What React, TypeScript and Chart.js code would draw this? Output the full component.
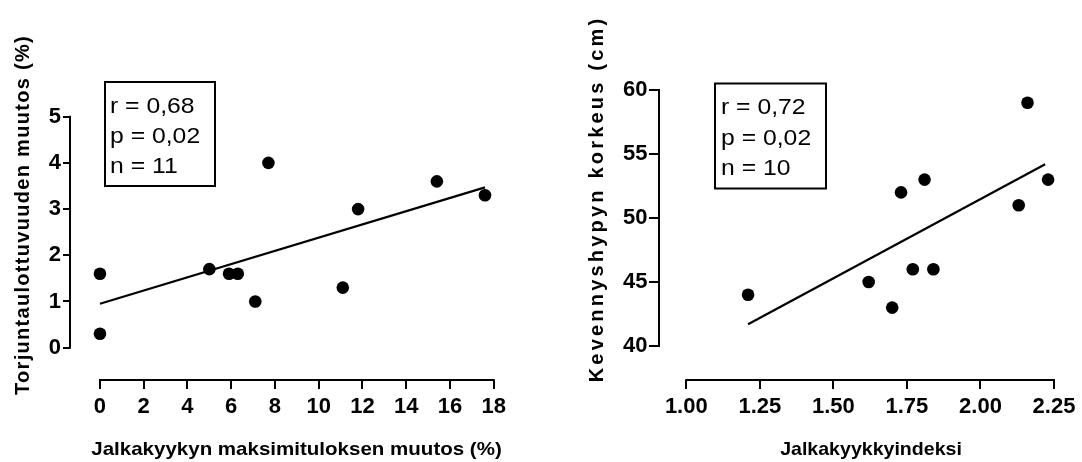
import React, { useEffect, useRef } from 'react';
import { Chart, registerables } from 'chart.js';
Chart.register(...registerables);

// ---------- DATA ----------
const leftX = [0, 0, 5.0, 5.9, 6.3, 7.1, 7.7, 11.1, 11.8, 15.4, 17.6];
const leftY = [1.6, 0.3, 1.7, 1.6, 1.6, 1.0, 4.0, 1.3, 3.0, 3.6, 3.3];
const leftFitX = [0, 17.6];
const leftFitY = [0.95, 3.47];
const leftXTicks = [0, 2, 4, 6, 8, 10, 12, 14, 16, 18];
const leftYTicks = [0, 1, 2, 3, 4, 5];
const leftStats = ['r = 0,68', 'p = 0,02', 'n = 11'];
const leftXTitle = 'Jalkakyykyn maksimituloksen muutos (%)';
const leftYTitle = 'Torjuntaulottuvuuden muutos (%)';

const rightX = [1.21, 1.62, 1.70, 1.73, 1.77, 1.81, 1.84, 2.13, 2.16, 2.23];
const rightY = [44, 45, 43, 52, 46, 53, 46, 51, 59, 53];
const rightFitX = [1.21, 2.22];
const rightFitY = [41.7, 54.2];
const rightXTicks = [1.0, 1.25, 1.5, 1.75, 2.0, 2.25];
const rightYTicks = [40, 45, 50, 55, 60];
const rightStats = ['r = 0,72', 'p = 0,02', 'n = 10'];
const rightXTitle = 'Jalkakyykkyindeksi';
const rightYTitle = 'Kevennyshypyn korkeus (cm)';

const FONT = "'Liberation Sans', Arial, Helvetica, sans-serif";

type PanelCfg = {
  xs: number[]; ys: number[]; fitX: number[]; fitY: number[];
  xTicks: number[]; yTicks: number[]; stats: string[];
  xTitle: string; yTitle: string; xFmt: (v: number) => string;
  area: { left: number; top: number; right: number; bottom: number };
  xRange: [number, number]; yRange: [number, number];
  yTickLen: number; yTickPad: number; xTickLen: number; xTickPad: number;
  box: { x: number; y: number; w: number; h: number };
  statX: number; statBase: number[];
  yTitleFont: number; yTitleSpacing: number; yTitlePos: { x: number; y: number };
  xTitleFont: number; xTitleScale: number; xTitlePos: { x: number; y: number };
};

const leftPanel: PanelCfg = {
  xs: leftX, ys: leftY, fitX: leftFitX, fitY: leftFitY,
  xTicks: leftXTicks, yTicks: leftYTicks, stats: leftStats,
  xTitle: leftXTitle, yTitle: leftYTitle, xFmt: (v) => String(v),
  area: { left: 70, top: 93.6, right: 520, bottom: 380 },
  xRange: [-1.37, 19.2], yRange: [-0.7, 5.5],
  yTickLen: 7, yTickPad: 2, xTickLen: 9, xTickPad: 5,
  box: { x: 105, y: 82, w: 110, h: 104 },
  statX: 110, statBase: [113, 143, 173],
  yTitleFont: 20, yTitleSpacing: 1.3, yTitlePos: { x: 29, y: 215 },
  xTitleFont: 19, xTitleScale: 1.08, xTitlePos: { x: 296.5, y: 455 },
};

const rightPanel: PanelCfg = {
  xs: rightX, ys: rightY, fitX: rightFitX, fitY: rightFitY,
  xTicks: rightXTicks, yTicks: rightYTicks, stats: rightStats,
  xTitle: rightXTitle, yTitle: rightYTitle, xFmt: (v) => v.toFixed(2),
  area: { left: 118, top: 64.4, right: 541, bottom: 380 },
  xRange: [0.9072, 2.3238], yRange: [37.344, 62],
  yTickLen: 10, yTickPad: 1.5, xTickLen: 9, xTickPad: 5,
  box: { x: 174, y: 83.5, w: 111, h: 105 },
  statX: 180, statBase: [114, 144.5, 175],
  yTitleFont: 20, yTitleSpacing: 3.2, yTitlePos: { x: 61.5, y: 199 },
  xTitleFont: 19, xTitleScale: 1.03, xTitlePos: { x: 330, y: 455 },
};

function Panel({ cfg, left }: { cfg: PanelCfg; left: number }) {
  const ref = useRef<HTMLCanvasElement | null>(null);
  useEffect(() => {
    const canvas = ref.current;
    if (!canvas) return;
    const W = 541, H = 462;
    const decor = {
      id: 'prismDecor',
      afterDraw(chart: any) {
        const ctx = chart.ctx as CanvasRenderingContext2D;
        const xs = chart.scales.x, ys = chart.scales.y;
        const a = chart.chartArea;
        ctx.save();
        ctx.strokeStyle = '#000';
        ctx.lineWidth = 2;
        ctx.lineCap = 'butt';
        // y axis line
        const yTop = ys.getPixelForValue(cfg.yTicks[cfg.yTicks.length - 1]);
        const yBot = ys.getPixelForValue(cfg.yTicks[0]);
        ctx.beginPath();
        ctx.moveTo(a.left, yTop - 1);
        ctx.lineTo(a.left, yBot + 1);
        ctx.stroke();
        // x axis line
        const xL = xs.getPixelForValue(cfg.xTicks[0]);
        const xR = xs.getPixelForValue(cfg.xTicks[cfg.xTicks.length - 1]);
        ctx.beginPath();
        ctx.moveTo(xL - 1, a.bottom);
        ctx.lineTo(xR + 1, a.bottom);
        ctx.stroke();
        // stats box
        ctx.lineWidth = 2;
        ctx.strokeRect(cfg.box.x, cfg.box.y, cfg.box.w, cfg.box.h);
        ctx.fillStyle = '#000';
        ctx.font = `22.5px ${FONT}`;
        ctx.textAlign = 'left';
        ctx.textBaseline = 'alphabetic';
        cfg.stats.forEach((s, i) => {
          ctx.save();
          ctx.translate(cfg.statX, cfg.statBase[i]);
          ctx.scale(1.1, 1);
          ctx.fillText(s, 0, 0);
          ctx.restore();
        });
        // x title
        ctx.save();
        ctx.font = `bold ${cfg.xTitleFont}px ${FONT}`;
        ctx.textAlign = 'center';
        ctx.translate(cfg.xTitlePos.x, cfg.xTitlePos.y);
        ctx.scale(cfg.xTitleScale, 1);
        ctx.fillText(cfg.xTitle, 0, 0);
        ctx.restore();
        // y title
        ctx.save();
        ctx.font = `bold ${cfg.yTitleFont}px ${FONT}`;
        (ctx as any).letterSpacing = `${cfg.yTitleSpacing}px`;
        ctx.textAlign = 'center';
        ctx.translate(cfg.yTitlePos.x, cfg.yTitlePos.y);
        ctx.rotate(-Math.PI / 2);
        ctx.fillText(cfg.yTitle, 0, 0);
        ctx.restore();
        ctx.restore();
      },
    };
    const tickFont = { family: FONT, size: 22, weight: 'bold' as const };
    const chart = new Chart(canvas, {
      type: 'scatter',
      data: {
        datasets: [
          {
            data: cfg.xs.map((x, i) => ({ x, y: cfg.ys[i] })),
            pointRadius: 6.3,
            pointHoverRadius: 6.3,
            backgroundColor: '#000',
            borderColor: '#000',
            borderWidth: 0,
          },
          {
            data: cfg.fitX.map((x, i) => ({ x, y: cfg.fitY[i] })),
            showLine: true,
            pointRadius: 0,
            borderColor: '#000',
            borderWidth: 2.2,
            backgroundColor: '#000',
          },
        ],
      },
      options: {
        animation: false,
        responsive: false,
        devicePixelRatio: 1,
        layout: {
          padding: { left: 0, top: cfg.area.top, right: W - cfg.area.right, bottom: 0 },
        },
        plugins: { legend: { display: false }, tooltip: { enabled: false } },
        events: [],
        scales: {
          x: {
            type: 'linear',
            position: 'bottom',
            min: cfg.xRange[0],
            max: cfg.xRange[1],
            afterBuildTicks: (s: any) => { s.ticks = cfg.xTicks.map((v) => ({ value: v })); },
            afterFit: (s: any) => { s.height = H - cfg.area.bottom; s.paddingLeft = 0; s.paddingRight = 0; },
            grid: { drawOnChartArea: false, drawTicks: true, tickLength: cfg.xTickLen, color: '#000', lineWidth: 2 },
            border: { display: false },
            ticks: {
              autoSkip: false, maxRotation: 0, minRotation: 0,
              padding: cfg.xTickPad, color: '#000', font: tickFont,
              callback: (v: any) => cfg.xFmt(Number(v)),
            },
          },
          y: {
            type: 'linear',
            position: 'left',
            min: cfg.yRange[0],
            max: cfg.yRange[1],
            afterBuildTicks: (s: any) => { s.ticks = cfg.yTicks.map((v) => ({ value: v })); },
            afterFit: (s: any) => { s.width = cfg.area.left; s.paddingTop = 0; s.paddingBottom = 0; },
            grid: { drawOnChartArea: false, drawTicks: true, tickLength: cfg.yTickLen, color: '#000', lineWidth: 2 },
            border: { display: false },
            ticks: {
              autoSkip: false, padding: cfg.yTickPad, color: '#000', font: tickFont,
              callback: (v: any) => String(v),
            },
          },
        },
      },
      plugins: [decor],
    });
    return () => chart.destroy();
  }, [cfg]);
  return (
    <canvas
      ref={ref}
      width={541}
      height={462}
      style={{ position: 'absolute', left, top: 0, width: 541, height: 462 }}
    />
  );
}

export default function App() {
  return (
    <div style={{ position: 'fixed', left: 0, top: 0, width: 1082, height: 462, background: '#fff', overflow: 'hidden' }}>
      <Panel cfg={leftPanel} left={0} />
      <Panel cfg={rightPanel} left={541} />
    </div>
  );
}
